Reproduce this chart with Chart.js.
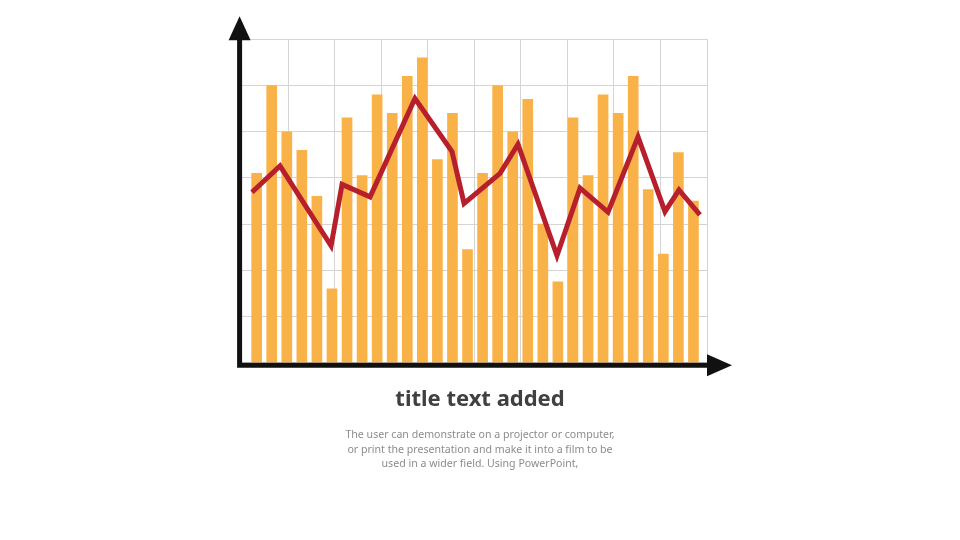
<!DOCTYPE html>
<html>
<head>
<meta charset="utf-8">
<script src="https://cdn.jsdelivr.net/npm/chart.js@4/dist/chart.umd.min.js"></script>
<style>
    body { margin: 0; background: #fff; }
    #wrap { position: relative; width: 960px; height: 540px; overflow: hidden; }
    #chart { position: absolute; left: 0; top: 0; }
    .title {
        position: absolute; left: 0; width: 960px; top: 384px;
        text-align: center; font: bold 22px "Noto Sans", sans-serif;
        line-height: 26px; color: #404040;
    }
    .desc {
        position: absolute; left: 0; width: 960px; top: 427px;
        text-align: center; font: 10.6px "Noto Sans", sans-serif;
        line-height: 14.5px; color: #8c8c8c;
    }
</style>
</head>
<body>
<div id="wrap">
    <canvas id="chart" width="960" height="540"></canvas>
    <div class="title">title text added</div>
    <div class="desc">The user can demonstrate on a projector or computer,<br>or print the presentation and make it into a film to be<br>used in a wider field. Using PowerPoint,</div>
</div>
<script>
// bars (one per slot, slot 1..30)
const barValues = [
    41, 60, 50, 46, 36, 16, 53, 40.5, 58, 54,
    62, 66, 44, 54, 24.5, 41, 60, 50, 57, 30,
    17.5, 53, 40.5, 58, 54, 62, 37.5, 23.5, 45.5, 35
];

// red line, its own positions along the slots
const lineX = [0.69, 2.55, 5.94, 6.67, 8.53, 11.51, 13.97, 14.77, 17.16, 18.35, 20.94, 22.47, 24.33, 26.32, 28.11, 29.04, 30.43];
const lineY = [36.9, 42.6, 25.3, 38.6, 35.9, 57.2, 45.7, 34.5, 41.0, 47.3, 23.2, 37.8, 32.6, 48.9, 32.7, 37.4, 32.0];

const barColor = "#F9B248";
const lineColor = "#B71F2C";
const gridColor = "#d4d4d4";

// black axes with arrow heads
const arrowAxes = {
    id: "arrowAxes",
    afterDatasetsDraw(chart) {
        const ctx = chart.ctx;
        const a = chart.chartArea;
        const lx = a.left - 2;
        const by = a.bottom + 2.5;
        ctx.save();
        ctx.strokeStyle = "#111";
        ctx.fillStyle = "#111";
        ctx.lineWidth = 5;
        ctx.beginPath();
        ctx.moveTo(lx, by + 2.5);
        ctx.lineTo(lx, a.top);
        ctx.moveTo(lx - 2.5, by);
        ctx.lineTo(a.right + 3, by);
        ctx.stroke();
        // up arrow
        ctx.beginPath();
        ctx.moveTo(lx, a.top - 23);
        ctx.lineTo(lx - 11, a.top + 1);
        ctx.lineTo(lx + 11, a.top + 1);
        ctx.closePath();
        ctx.fill();
        // right arrow
        ctx.beginPath();
        ctx.moveTo(a.right + 25, by);
        ctx.lineTo(a.right, by - 11);
        ctx.lineTo(a.right, by + 11);
        ctx.closePath();
        ctx.fill();
        ctx.restore();
    }
};

new Chart(document.getElementById("chart"), {
    data: {
        datasets: [{
            type: "line",
            order: 0,
            data: lineX.map((x, i) => ({ x: x, y: lineY[i] })),
            borderColor: lineColor,
            borderWidth: 5,
            borderJoinStyle: "miter",
            pointRadius: 0,
            tension: 0,
        }, {
            type: "bar",
            order: 1,
            data: barValues.map((v, i) => ({ x: i + 1, y: v })),
            backgroundColor: barColor,
            barThickness: 10,
        }, ],
    },
    options: {
        responsive: false,
        animation: false,
        layout: { padding: { left: 241.6, right: 253, top: 39.3, bottom: 177.2 } },
        plugins: { legend: { display: false }, tooltip: { enabled: false } },
        scales: {
            x: {
                type: "linear",
                offset: false,
                min: 0,
                max: 30.9,
                grid: { display: false, drawTicks: false },
                border: { display: false },
                ticks: { display: false },
            },
            xGrid: {
                type: "linear",
                axis: "x",
                position: "bottom",
                offset: false,
                min: 0,
                max: 10,
                ticks: { display: false, stepSize: 1 },
                grid: { color: gridColor, lineWidth: 1, drawTicks: false },
                border: { display: false },
            },
            y: {
                min: 0,
                max: 70,
                ticks: { display: false, stepSize: 10 },
                grid: { color: gridColor, lineWidth: 1, drawTicks: false },
                border: { display: false },
            },
        },
    },
    plugins: [arrowAxes],
});
</script>
</body>
</html>
